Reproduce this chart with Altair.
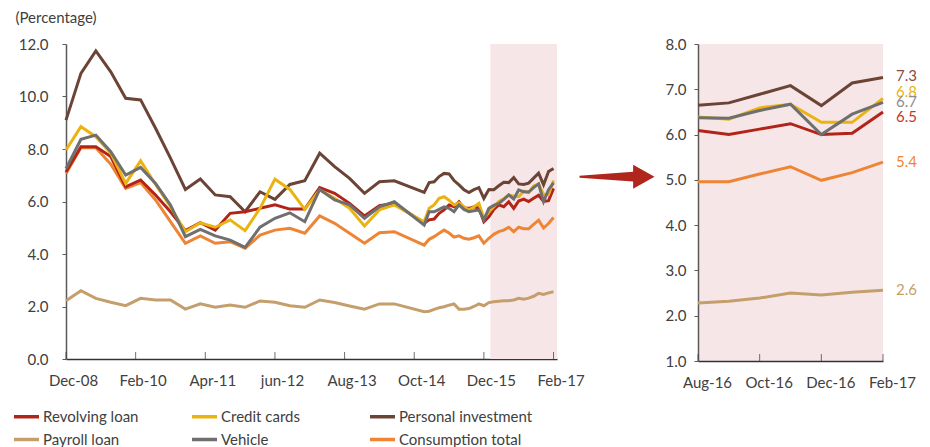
import altair as alt
import pandas as pd

# ---------------- data ----------------
series_names = ["Revolving loan", "Credit cards", "Personal investment",
                "Payroll loan", "Vehicle", "Consumption total"]
series_colors = ["#B22418", "#EBB310", "#6B4436", "#C49F6C", "#6F6F6F", "#EE8535"]
label_colors = ["#C0392B", "#EBB310", "#8D4A3F", "#C49F6C", "#8C8C8C", "#EE8535"]
draw_order = ["Payroll loan", "Personal investment", "Consumption total",
              "Revolving loan", "Credit cards", "Vehicle"]

# months since Dec-08: quarterly until Jun-14, monthly from Dec-14 to Feb-17
quarter_months = list(range(0, 67, 3))
monthly_months = list(range(72, 99))
months = quarter_months + monthly_months

revolving = [7.12, 8.09, 8.09, 7.71, 6.56, 6.82, 6.25, 5.61, 4.89, 5.19, 4.91, 5.55, 5.61,
             5.74, 5.87, 5.71, 5.71, 6.53, 6.31, 5.93, 5.45, 5.84, 5.93,
             5.17, 5.30, 5.33, 5.55, 5.68, 5.87, 5.80, 5.99, 5.74, 5.74, 5.80, 5.75, 5.23,
             5.42, 5.70, 5.87, 5.80, 5.99, 5.74, 6.02, 6.09, 6.00, 6.12, 6.24, 6.00, 6.03, 6.50]
credit_cards = [7.96, 8.85, 8.47, 7.84, 6.69, 7.55, 6.65, 5.80, 4.85, 5.19, 5.02, 5.30, 4.89,
                5.74, 6.85, 6.46, 5.70, 6.44, 6.12, 5.74, 5.07, 5.68, 5.87,
                5.23, 5.74, 5.87, 6.12, 6.18, 6.05, 5.87, 5.95, 5.80, 5.68, 5.80, 5.93, 5.36,
                5.60, 5.80, 6.00, 6.10, 6.25, 6.20, 6.18, 6.39, 6.34, 6.59, 6.67, 6.27, 6.27, 6.80]
personal_investment = [9.10, 10.88, 11.74, 10.94, 9.93, 9.87, 8.79, 7.65, 6.46, 6.86, 6.25, 6.18, 5.61,
                       6.37, 6.08, 6.65, 6.79, 7.84, 7.33, 6.88, 6.31, 6.75, 6.79,
                       6.35, 6.72, 6.75, 6.95, 7.07, 7.05, 6.80, 6.63, 6.45, 6.34, 6.45, 6.53, 6.12,
                       6.46, 6.45, 6.60, 6.73, 6.72, 6.91, 6.67, 6.65, 6.70, 6.89, 7.08, 6.64, 7.14, 7.26]
payroll_loan = [2.22, 2.60, 2.31, 2.16, 2.03, 2.31, 2.25, 2.25, 1.90, 2.10, 1.97, 2.06, 1.97,
                2.21, 2.16, 2.03, 1.97, 2.25, 2.15, 2.02, 1.90, 2.10, 2.10,
                1.80, 1.82, 1.89, 1.95, 1.99, 2.05, 2.10, 1.90, 1.90, 1.92, 2.00, 2.10, 2.03,
                2.15, 2.18, 2.20, 2.22, 2.22, 2.25, 2.31, 2.28, 2.32, 2.39, 2.50, 2.46, 2.52, 2.56]
vehicle = [7.25, 8.37, 8.53, 7.90, 7.01, 7.30, 6.69, 5.87, 4.66, 4.94, 4.69, 4.53, 4.25,
           5.02, 5.36, 5.57, 5.23, 6.46, 6.06, 5.87, 5.36, 5.80, 5.99,
           5.10, 5.61, 5.61, 5.70, 5.80, 5.74, 5.61, 5.87, 5.70, 5.61, 5.65, 5.68, 5.30,
           5.74, 5.85, 5.93, 6.08, 6.25, 6.10, 6.44, 6.37, 6.36, 6.53, 6.67, 6.00, 6.45, 6.71]
consumption_total = [7.07, 8.05, 8.05, 7.42, 6.50, 6.72, 6.06, 5.23, 4.41, 4.69, 4.41, 4.47, 4.22,
                     4.72, 4.91, 4.98, 4.79, 5.45, 5.17, 4.79, 4.41, 4.81, 4.85,
                     4.34, 4.56, 4.66, 4.79, 4.91, 4.80, 4.64, 4.69, 4.60, 4.56, 4.62, 4.69, 4.41,
                     4.60, 4.75, 4.85, 4.91, 5.02, 4.85, 5.02, 4.96, 4.96, 5.13, 5.29, 4.99, 5.16, 5.39]

series_values = {
    "Revolving loan": revolving,
    "Credit cards": credit_cards,
    "Personal investment": personal_investment,
    "Payroll loan": payroll_loan,
    "Vehicle": vehicle,
    "Consumption total": consumption_total,
}

left_tick_months = [0, 14, 28, 42, 56, 70, 84, 98]
left_tick_labels = ["Dec-08", "Feb-10", "Apr-11", "jun-12", "Aug-13", "Oct-14", "Dec-15", "Feb-17"]
zoom_start_month = 92  # Aug-16
right_tick_months = [0, 2, 4, 6]
right_tick_labels = ["Aug-16", "Oct-16", "Dec-16", "Feb-17"]
band_start = [85.3]
band_end = [98.7]

# label vertical nudges (pixels) for end-of-line labels
label_dy = {"Revolving loan": 5, "Credit cards": -6, "Personal investment": -1.5,
            "Payroll loan": 0, "Vehicle": 0, "Consumption total": 0}

# ---------------- tables ----------------
rows = []
for name in draw_order:
    for m, v in zip(months, series_values[name]):
        rows.append({"series": name, "month": m, "value": v, "zm": m - zoom_start_month})
df = pd.DataFrame(rows)
df_zoom = df[df["month"] >= zoom_start_month].copy()
df_last = df[df["month"] == months[-1]].copy()
band_df = pd.DataFrame({"x0": band_start, "x1": band_end})

FONT = "Lato"
TXT = "#404040"
W_L, H_L = 491, 315
W_R, H_R = 185, 317


def label_expr(labels, step):
    arr = "[" + ",".join("'%s'" % s for s in labels) + "]"
    return "%s[round(datum.value/%d)]" % (arr, step)


color_scale = alt.Scale(domain=series_names, range=series_colors)

# ---------------- left panel ----------------
x_left = alt.X("month:Q", scale=alt.Scale(domain=[0, 98.7], nice=False, zero=False),
               axis=alt.Axis(values=left_tick_months, labelExpr=label_expr(left_tick_labels, 14),
                             ticks=False, grid=False, labelOffset=7, labelPadding=14,
                             labelFlush=False, labelOverlap=False, domainColor="#333333",
                             domainWidth=1.5, title=None))
y_left = alt.Y("value:Q", scale=alt.Scale(domain=[0, 12], nice=False, zero=True),
               axis=alt.Axis(values=[0, 2, 4, 6, 8, 10, 12], format=".1f", grid=False,
                             tickSize=4, tickColor="#595959", labelPadding=14,
                             domainColor="#595959", domainWidth=1.5,
                             title="(Percentage)", titleAngle=0, titleAlign="left",
                             titleBaseline="alphabetic", titleX=-51, titleY=-22,
                             titleFontWeight="normal", titleFontSize=15, titleFont=FONT,
                             titleColor=TXT))

band_left = alt.Chart(band_df).mark_rect(color="#F7E6E8").encode(
    x=alt.X("x0:Q", scale=alt.Scale(domain=[0, 98.7], nice=False, zero=False)),
    x2="x1:Q",
    y=alt.value(0), y2=alt.value(H_L))

lines_left = alt.Chart(df).mark_line(strokeWidth=3, strokeJoin="miter").encode(
    x=x_left, y=y_left,
    color=alt.Color("series:N", scale=color_scale,
                    legend=alt.Legend(orient="none", legendX=-54, legendY=358, columns=3,
                                      direction="horizontal", title=None, symbolType="stroke",
                                      symbolSize=625, symbolStrokeWidth=3.5, labelFont=FONT,
                                      labelFontSize=15, labelColor=TXT, labelOffset=2,
                                      gridAlign="all", columnPadding=8, rowPadding=-1,
                                      labelLimit=300)),
    detail="series:N")

ticks_left = alt.Chart(pd.DataFrame({"month": left_tick_months})).mark_tick(
    orient="vertical", size=7, thickness=1, color="#333333").encode(
    x=alt.X("month:Q", scale=alt.Scale(domain=[0, 98.7], nice=False, zero=False)),
    y=alt.value(H_L - 3.5))

left = alt.layer(band_left, lines_left, ticks_left).properties(width=W_L, height=H_L)

# ---------------- right panel ----------------
xr_scale = alt.Scale(domain=[0, 6], nice=False, zero=False)
x_right = alt.X("zm:Q", scale=xr_scale,
                axis=alt.Axis(values=right_tick_months, labelExpr=label_expr(right_tick_labels, 2),
                              ticks=False, grid=False, labelOffset=9, labelPadding=14,
                              labelFlush=False, labelOverlap=False, domainColor="#333333",
                              domainWidth=1.5, title=None))
yr_scale = alt.Scale(domain=[1, 8], nice=False, zero=False)
y_right = alt.Y("value:Q", scale=yr_scale,
                axis=alt.Axis(values=[1, 2, 3, 4, 5, 6, 7, 8], format=".1f", grid=False,
                              tickSize=4, tickColor="#595959", labelPadding=8,
                              domainColor="#595959", domainWidth=1.5, title=None))

lines_right = alt.Chart(df_zoom).mark_line(strokeWidth=3).encode(
    x=x_right, y=y_right,
    color=alt.Color("series:N", scale=color_scale, legend=None),
    detail="series:N")

ticks_right = alt.Chart(pd.DataFrame({"zm": right_tick_months})).mark_tick(
    orient="vertical", size=7, thickness=1, color="#333333").encode(
    x=alt.X("zm:Q", scale=xr_scale), y=alt.value(H_R - 3.5))

label_layers = []
for name, lc in zip(series_names, label_colors):
    d = df_last[df_last["series"] == name].copy()
    d["zm"] = d["month"] - zoom_start_month
    label_layers.append(
        alt.Chart(d).mark_text(align="left", baseline="middle", dx=13, dy=label_dy[name],
                               font=FONT, fontSize=15, color=lc).encode(
            x=alt.X("zm:Q", scale=xr_scale),
            y=alt.Y("value:Q", scale=yr_scale),
            text=alt.Text("value:Q", format=".1f")))

arrow_path = "M -1 -0.025 L 0.43 -0.13 L 0.43 -0.32 L 1 0 L 0.43 0.32 L 0.43 0.13 L -1 0.025 Z"
arrow = alt.Chart(pd.DataFrame({"a": [0]})).mark_point(
    shape=arrow_path, size=5625, filled=True, color="#B0261C", opacity=1, strokeWidth=0).encode(
    x=alt.value(-81), y=alt.value(132.7))

right = alt.layer(lines_right, ticks_right, *label_layers, arrow).properties(
    width=W_R, height=H_R, view=alt.ViewBackground(fill="#F7E6E8", stroke=None))

chart = alt.hconcat(left, right, spacing=141, bounds="flush").resolve_scale(
    color="independent", x="independent", y="independent"
).properties(padding={"left": 4, "top": 2, "right": 5, "bottom": 0}).configure_view(
    stroke=None).configure_axis(
    labelFont=FONT, labelFontSize=15, labelColor=TXT)

chart.save("out.html", embed_options={"renderer": "svg", "actions": False})
